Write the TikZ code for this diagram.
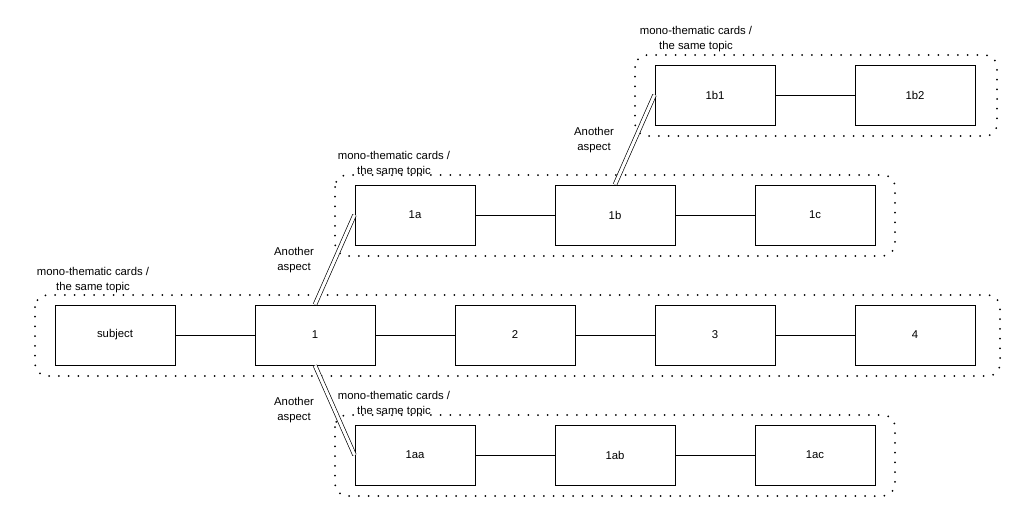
\documentclass[tikz,border=0pt]{standalone}
\usepackage{fontspec}
\setmainfont{Liberation Sans}
\usetikzlibrary{positioning}

\begin{document}
\begin{tikzpicture}[
		x=0.75pt,y=-0.75pt,
		every node/.style={font=\fontsize{8.5}{11}\selectfont},
		card/.style={draw, line width=0.75pt, minimum width=90pt, minimum height=45pt, inner sep=0pt},
		group/.style={line width=1.5pt, line cap=round, dash pattern=on 0pt off 7.3pt, rounded corners=9pt},
		link/.style={draw, line width=0.6pt},
		aspect/.style={draw, line width=0.5pt, double, double distance=2.3pt}
		]
		\useasboundingbox (0,0) rectangle (1021,521);
		
		% =========================
		% main row
		% =========================
		\draw[group] (35,295) rectangle (1000,376);
		\node[align=center] (gmain) at (93,280) {mono-thematic cards /\\the same topic};
		
		\node[card] (subject) at (115,335) {subject};
		\node[card] (n1) at (315,335) {1};
		\node[card] (n2) at (515,335) {2};
		\node[card] (n3) at (715,335) {3};
		\node[card] (n4) at (915,335) {4};
		
		\draw[link] (subject) -- (n1);
		\draw[link] (n1) -- (n2);
		\draw[link] (n2) -- (n3);
		\draw[link] (n3) -- (n4);
		
		% =========================
		% upper row: 1a, 1b, 1c
		% =========================
		\draw[group] (335,175) rectangle (895,256);
		\node[align=center] (gup) at (394,164) {mono-thematic cards /\\the same topic};
		
		\node[card] (n1a) at (415,215) {1a};
		\node[card] (n1b) at (615,215) {1b};
		\node[card] (n1c) at (815,215) {1c};
		
		\draw[link] (n1a) -- (n1b);
		\draw[link] (n1b) -- (n1c);
		
		% =========================
		% top row: 1b1, 1b2
		% =========================
		\draw[group] (635,55) rectangle (997,136);
		\node[align=center] (gtop) at (696,39) {mono-thematic cards /\\the same topic};
		
		\node[card] (n1b1) at (715,95) {1b1};
		\node[card] (n1b2) at (915,95) {1b2};
		
		\draw[link] (n1b1) -- (n1b2);
		
		% =========================
		% lower row: 1aa, 1ab, 1ac
		% =========================
		\draw[group] (335,415) rectangle (895,496);
		\node[align=center] (glow) at (394,404) {mono-thematic cards /\\the same topic};
		
		\node[card] (n1aa) at (415,455) {1aa};
		\node[card] (n1ab) at (615,455) {1ab};
		\node[card] (n1ac) at (815,455) {1ac};
		
		\draw[link] (n1aa) -- (n1ab);
		\draw[link] (n1ab) -- (n1ac);
		
		% =========================
		% aspects
		% =========================
		\draw[aspect] (n1.north) -- (n1a.west);
		\draw[aspect] (n1.south) -- (n1aa.west);
		\draw[aspect] (n1b.north) -- (n1b1.west);
		
		\node[align=center] (asp1) at (294,260) {Another\\aspect};
		\node[align=center] (asp2) at (294,410) {Another\\aspect};
		\node[align=center] (asp3) at (594,140) {Another\\aspect};
		
	\end{tikzpicture}
\end{document}
